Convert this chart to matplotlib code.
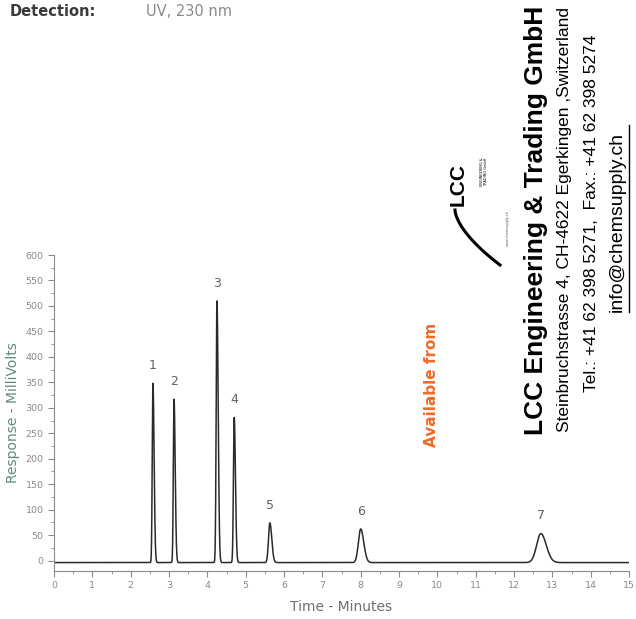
import numpy as np
import matplotlib.pyplot as plt
from matplotlib.ticker import MultipleLocator

# peak table
peak_labels = ['1', '2', '3', '4', '5', '6', '7']
peak_times = [2.58, 3.13, 4.25, 4.70, 5.63, 8.00, 12.70]      # min
peak_heights = [352, 321, 514, 285, 78, 66, 57]              # mV above baseline
peak_sigma_left = [0.018, 0.018, 0.020, 0.020, 0.035, 0.060, 0.110]
peak_sigma_right = [0.030, 0.030, 0.032, 0.032, 0.050, 0.080, 0.140]
baseline = -4.0

x_ticks = list(range(0, 16))
y_ticks = list(range(0, 601, 50))

t = np.linspace(0, 15, 6000)
signal = np.full_like(t, baseline)
for t0, h, sl, sr in zip(peak_times, peak_heights, peak_sigma_left, peak_sigma_right):
    s = np.where(t < t0, sl, sr)
    signal += h * np.exp(-0.5 * ((t - t0) / s) ** 2)

fig = plt.figure(figsize=(6.36, 6.19), dpi=100)
ax = fig.add_axes([0.085, 0.078, 0.904, 0.510])

ax.plot(t, signal, color='#2a2a2a', lw=1.1)
for lab, t0, h in zip(peak_labels, peak_times, peak_heights):
    ax.text(t0, baseline + h + 22, lab, ha='center', va='bottom',
            fontsize=9, color='#606060')

ax.set_xlim(0, 15)
ax.set_ylim(-20, 600)
ax.set_xticks(x_ticks)
ax.set_yticks(y_ticks)
ax.xaxis.set_minor_locator(MultipleLocator(0.5))
ax.yaxis.set_minor_locator(MultipleLocator(25))
ax.tick_params(which='both', direction='out', colors='#8a8a8a', labelsize=6.8)
ax.tick_params(which='major', length=4)
ax.tick_params(which='minor', length=2.5)
for sp in ['top', 'right']:
    ax.spines[sp].set_visible(False)
for sp in ['left', 'bottom']:
    ax.spines[sp].set_color('#8a8a8a')
    ax.spines[sp].set_linewidth(0.8)
ax.set_xlabel('Time - Minutes', fontsize=10, color='#707070', labelpad=7)
ax.set_ylabel('Response - MilliVolts', fontsize=10, color='#5f8a80', labelpad=4)

# header of the scanned page
fig.text(10 / 636, 1 - 12 / 619, 'Detection:', fontsize=10.5, fontweight='bold',
         color='#3a3a3a', va='center')
fig.text(146 / 636, 1 - 12 / 619, 'UV, 230 nm', fontsize=10.5, color='#8a8a8a',
         va='center')

# distributor stamp (rotated)
fig.text(432 / 636, 1 - 385 / 619, 'Available from', rotation=90, fontsize=11,
         fontweight='bold', color='#f06a2a', ha='center', va='center')
fig.text(536 / 636, 1 - 435 / 619, 'LCC Engineering & Trading GmbH', rotation=90,
         fontsize=19, fontweight='bold', family='Liberation Sans', color='black',
         ha='center', va='bottom')
fig.text(565 / 636, 1 - 432 / 619, 'Steinbruchstrasse 4, CH-4622 Egerkingen ,Switzerland',
         rotation=90, fontsize=12.5, family='Liberation Sans', color='black',
         ha='center', va='bottom')
fig.text(591 / 636, 1 - 392 / 619, 'Tel.: +41 62 398 5271,  Fax.: +41 62 398 5274',
         rotation=90, fontsize=12.5, family='Liberation Sans', color='black',
         ha='center', va='bottom')
fig.text(617 / 636, 1 - 312 / 619, 'info@chemsupply.ch', rotation=90, fontsize=14,
         family='Liberation Sans', color='black', ha='center', va='bottom')
fig.add_artist(plt.Line2D([629 / 636, 629 / 636], [1 - 312 / 619, 1 - 125 / 619],
                          color='black', lw=1))

# logo
fig.text(458 / 636, 1 - 185 / 619, 'LCC', rotation=90, fontsize=15, fontweight='bold',
         family='Liberation Sans', color='black', ha='center', va='center')
fig.text(484 / 636, 1 - 172 / 619, 'ENGINEERING &\nTRADING GmbH', rotation=90,
         fontsize=2.5, color='black', ha='center', va='center')
fig.text(508 / 636, 1 - 228 / 619, 'www.chemsupply.ch', rotation=90,
         fontsize=2.5, color='#555555', ha='center', va='center')
sw = np.linspace(0, 1, 50)
fig.add_artist(plt.Line2D((455 + 45 * sw ** 1.6) / 636, 1 - (210 + 55 * sw) / 619,
                          color='black', lw=2.2))

fig.savefig('out.png', dpi=100)
